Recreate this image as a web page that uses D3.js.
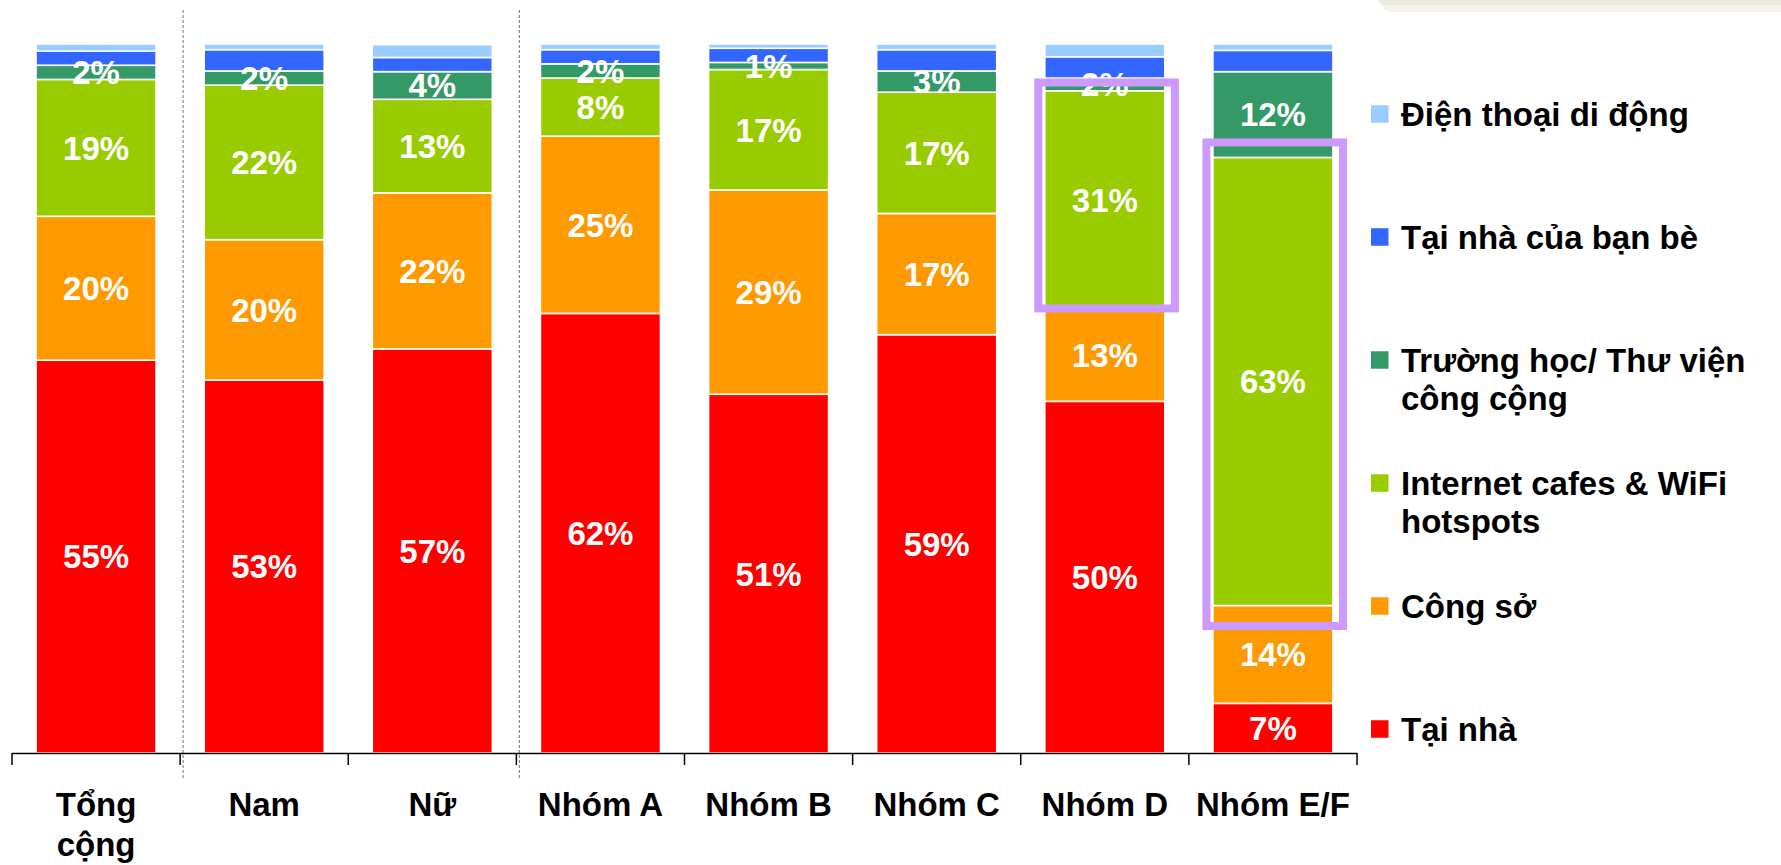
<!DOCTYPE html>
<html>
<head>
<meta charset="utf-8">
<script src="https://cdn.jsdelivr.net/npm/d3@7"></script>
<style>
  body { margin: 0; background: #fff; }
  svg { display: block; }
  text { font-family: "Liberation Sans", Arial, sans-serif; font-weight: bold; }
</style>
</head>
<body>
<svg id="chart" width="1781" height="865"></svg>
<script>
// Categories and tick labels (first one wraps on two lines)
const categories = ['Tổng cộng', 'Nam', 'Nữ', 'Nhóm A', 'Nhóm B', 'Nhóm C', 'Nhóm D', 'Nhóm E/F'];
const tickLabels = [['Tổng', 'cộng'], ['Nam'], ['Nữ'], ['Nhóm A'], ['Nhóm B'], ['Nhóm C'], ['Nhóm D'], ['Nhóm E/F']];

// Series, bottom of the stack first (percent)
const taiNha    = [55.4, 52.6, 57.0, 62.0, 50.6, 59.0, 49.6, 7.0];
const congSo    = [20.3, 19.8, 22.0, 25.0, 28.8, 17.1, 13.0, 13.8];
const internet  = [19.3, 21.8, 13.2, 8.2, 17.0, 17.1, 30.8, 63.2];
const truongHoc = [2.0, 2.0, 3.9, 2.0, 1.0, 3.0, 1.8, 12.1];
const banBe     = [2.0, 3.0, 2.0, 2.0, 2.0, 3.0, 3.0, 3.0];
const dienThoai = [1.0, 0.8, 1.8, 0.8, 0.6, 0.8, 1.8, 0.9];

const seriesKeys = ['taiNha', 'congSo', 'internet', 'truongHoc', 'banBe', 'dienThoai'];
const seriesNames = ['Tại nhà', 'Công sở', ['Internet cafes & WiFi', 'hotspots'],
  ['Trường học/ Thư viện', 'công cộng'], 'Tại nhà của bạn bè', 'Điện thoại di động'];
const seriesColors = ['#FF0000', '#FF9900', '#99CC00', '#339966', '#3366FF', '#99CCFF'];
const labelledKeys = ['taiNha', 'congSo', 'internet', 'truongHoc'];

// Highlighted (purple boxed) segments
const highlightCats = ['Nhóm D', 'Nhóm E/F'];
const highlightKey = 'internet';

// Build rows for d3.stack
const rows = categories.map((c, i) => ({
  cat: c,
  taiNha: taiNha[i], congSo: congSo[i], internet: internet[i],
  truongHoc: truongHoc[i], banBe: banBe[i], dienThoai: dienThoai[i]
}));

const svg = d3.select('#chart');

// Slide decoration, top right
svg.append('rect').attr('x', 1382).attr('y', -10).attr('width', 420).attr('height', 22)
  .attr('rx', 8).attr('fill', '#F4F2EC');
svg.append('rect').attr('x', 1378).attr('y', -10).attr('width', 420).attr('height', 15)
  .attr('rx', 6).attr('fill', '#ECE9DF');

const x = d3.scaleBand()
  .domain(categories)
  .range([12, 1357])
  .paddingInner(0.286)
  .paddingOuter(0.143);

const y = d3.scaleLinear().domain([0, 100]).range([753, 44]);

const stack = d3.stack().keys(seriesKeys);
const layers = stack(rows);

// Dotted separators
const edge = c => x(c) - x.step() * x.paddingInner() / 2;
[edge('Nam'), edge('Nhóm A')].forEach(px => {
  svg.append('line')
    .attr('x1', px + 3).attr('x2', px + 3)
    .attr('y1', 10).attr('y2', 780)
    .attr('stroke', '#8a8a8a').attr('stroke-width', 1.2)
    .attr('stroke-dasharray', '3,2');
});

// Bars
const g = svg.append('g');
layers.forEach((layer, li) => {
  g.append('g')
    .attr('fill', seriesColors[li])
    .selectAll('rect')
    .data(layer)
    .join('rect')
    .attr('x', d => x(d.data.cat))
    .attr('width', x.bandwidth())
    .attr('y', d => y(d[1]))
    .attr('height', d => y(d[0]) - y(d[1]))
    .attr('stroke', '#fff')
    .attr('stroke-width', 1.6);
});

// Value labels
layers.forEach((layer, li) => {
  if (!labelledKeys.includes(layer.key)) return;
  g.append('g')
    .selectAll('text')
    .data(layer)
    .join('text')
    .attr('x', d => x(d.data.cat) + x.bandwidth() / 2)
    .attr('y', d => (y(d[0]) + y(d[1])) / 2)
    .attr('dy', '0.36em')
    .attr('text-anchor', 'middle')
    .attr('fill', '#fff')
    .style('font-size', '33px')
    .text(d => Math.round(d.data[layer.key]) + '%');
});

// Purple highlight boxes
const hiLayer = layers.find(l => l.key === highlightKey);
const boxPad = { 'Nhóm D': [8.3, -0.7], 'Nhóm E/F': [15, 20.5] };
highlightCats.forEach(c => {
  const d = hiLayer.find(s => s.data.cat === c);
  const top = y(d[1]) - boxPad[c][0];
  const bottom = y(d[0]) + boxPad[c][1];
  svg.append('rect')
    .attr('x', x(c) - 6.5)
    .attr('y', top)
    .attr('width', x.bandwidth() + 16.5)
    .attr('height', bottom - top)
    .attr('fill', 'none')
    .attr('stroke', '#CC99FF')
    .attr('stroke-width', 8);
});

// X axis: baseline with ticks at band edges
const axis = svg.append('g').attr('stroke', '#000');
axis.append('line')
  .attr('x1', x.range()[0]).attr('x2', x.range()[1])
  .attr('y1', 753.5).attr('y2', 753.5)
  .attr('stroke-width', 1.5);
const tickXs = categories.map(edge).concat([x.range()[1]]);
tickXs[0] = x.range()[0];
axis.selectAll('line.tick')
  .data(tickXs)
  .join('line')
  .attr('class', 'tick')
  .attr('x1', d => d).attr('x2', d => d)
  .attr('y1', 753).attr('y2', 765)
  .attr('stroke-width', 1.5);

svg.append('g')
  .selectAll('text')
  .data(categories)
  .join('text')
  .attr('text-anchor', 'middle')
  .attr('fill', '#000')
  .style('font-size', '33px')
  .each(function(c, i) {
    const t = d3.select(this);
    tickLabels[i].forEach((line, j) => {
      t.append('tspan')
        .attr('x', x(c) + x.bandwidth() / 2)
        .attr('y', 816 + j * 40)
        .text(line);
    });
  });

// Legend, top item is the top of the stack
const legendOrder = d3.range(seriesKeys.length).reverse();
const legend = svg.append('g');
legendOrder.forEach((si, k) => {
  const cy = 114 + k * 123;
  legend.append('rect')
    .attr('x', 1371).attr('y', cy - 8.75)
    .attr('width', 17.5).attr('height', 17.5)
    .attr('fill', seriesColors[si]);
  const lines = Array.isArray(seriesNames[si]) ? seriesNames[si] : [seriesNames[si]];
  const t = legend.append('text').attr('fill', '#000').style('font-size', '33px');
  lines.forEach((line, j) => {
    t.append('tspan').attr('x', 1401).attr('y', cy + 11.5 + j * 38.5).text(line);
  });
});
</script>
</body>
</html>
